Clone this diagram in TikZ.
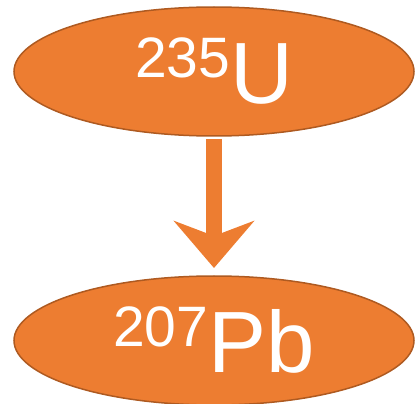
\documentclass[tikz,border=0pt]{standalone}
\usepackage{fontspec}
\setmainfont{Liberation Sans}
\usetikzlibrary{shapes.geometric,arrows.meta}
\definecolor{isotope}{HTML}{ED7D31}
\definecolor{isotopeedge}{HTML}{AE5A21}
% mass number raised before the element symbol
\newcommand\isotopelabel[2]{{\fontsize{57}{57}\selectfont\raisebox{26pt}{#1}}{\fontsize{87}{87}\selectfont #2}}
\begin{document}
\begin{tikzpicture}[x=1pt,y=-1pt,
  nuclide/.style={ellipse, draw=isotopeedge, line width=1.5pt, fill=isotope,
    text=white, minimum width=400pt, minimum height=129pt, inner sep=0pt},
  decay/.style={draw=isotope, line width=16pt,
    -{Stealth[length=47pt, width=80pt, inset=15pt]}}]
\useasboundingbox (0,0) rectangle (416,404);
\node[nuclide] (u) at (214,71.5) {\isotopelabel{235}{U}};
\node[nuclide] (pb) at (214,340.5) {\isotopelabel{207}{Pb}};
\draw[decay] ([yshift=-2.25pt]u.south) -- ([yshift=7.25pt]pb.north);
\end{tikzpicture}
\end{document}
